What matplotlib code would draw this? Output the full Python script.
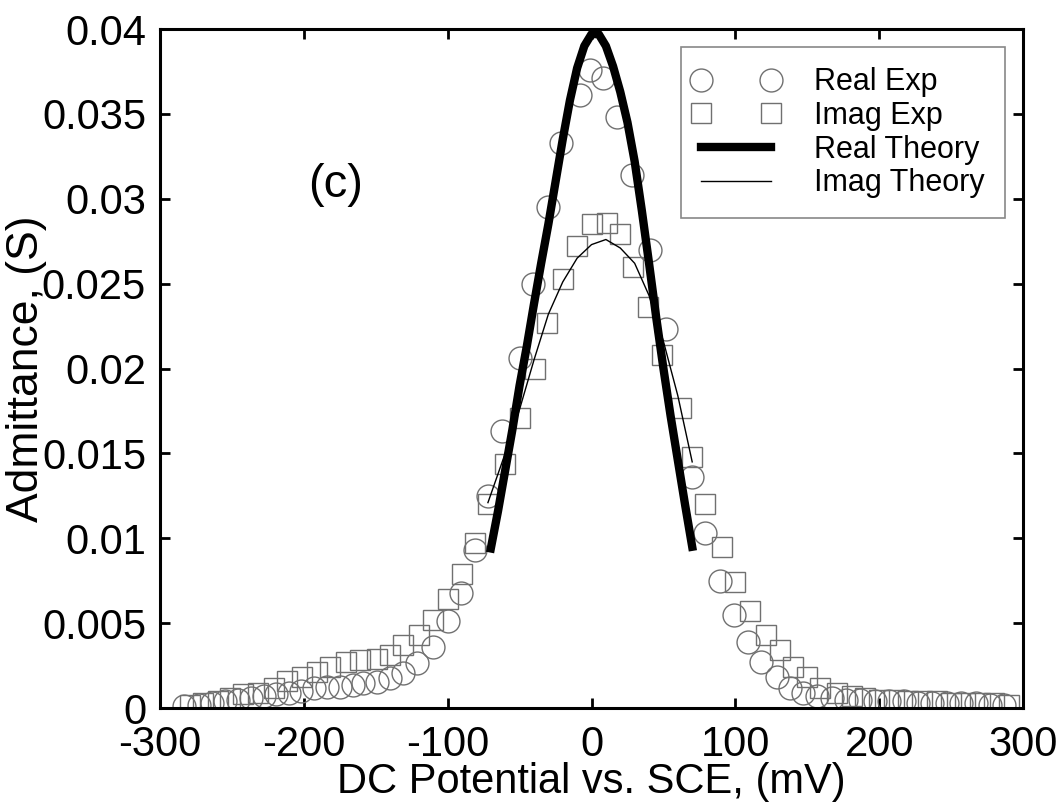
import matplotlib
matplotlib.use("Agg")
import matplotlib.pyplot as plt
from matplotlib.lines import Line2D
from matplotlib.legend_handler import HandlerLine2D
from matplotlib.ticker import FuncFormatter

plt.rcParams['font.family'] = ['Liberation Sans', 'DejaVu Sans']
plt.rcParams['axes.unicode_minus'] = False

# Real part, experiment (circles)
real_exp_x = [-283, -273, -264, -255, -246, -237, -228, -219, -210, -202, -193, -184, -175, -166,
              -159, -149, -140, -131, -121, -110, -100, -91, -81, -72, -62, -50, -41, -30, -21, -8,
              -1, 8, 18, 28, 41, 52, 70, 79, 89, 99, 109, 118, 129, 138, 147, 157, 167, 177, 187,
              197, 207, 217, 227, 237, 247, 257, 267, 277, 287]
real_exp_y = [0.0001, 0.0002, 0.0003, 0.0004, 0.0005, 0.0006, 0.0007, 0.0008, 0.0009, 0.0010,
              0.00118, 0.00124, 0.00124, 0.00135, 0.00147, 0.00153, 0.00177, 0.00206, 0.00265,
              0.0036, 0.0051, 0.0068, 0.0093, 0.0125, 0.0163, 0.0206, 0.0250, 0.0295, 0.0333,
              0.0361, 0.0376, 0.0371, 0.0348, 0.0314, 0.0270, 0.0223, 0.0136, 0.0103, 0.0075,
              0.0055, 0.0039, 0.0027, 0.0018, 0.0012, 0.0009, 0.0007, 0.0006, 0.0005, 0.0005,
              0.0004, 0.0004, 0.0004, 0.0003, 0.0003, 0.0003, 0.0003, 0.0003, 0.0002, 0.0002]

# Imaginary part, experiment (squares)
imag_exp_x = [-279, -270, -260, -251, -242, -232, -221, -212, -201, -191, -182, -171, -161, -149,
              -140, -131, -120, -110, -100, -90, -81, -72, -60, -50, -39, -31, -20, -10, 0, 11,
              20, 29, 39, 49, 62, 70, 79, 91, 100, 110, 121, 131, 140, 150, 159, 171, 181, 190,
              200, 210, 220, 230, 240, 250, 260, 270, 280, 290]
imag_exp_y = [0.0002, 0.0003, 0.0004, 0.0006, 0.0008, 0.0009, 0.0012, 0.0016, 0.0018, 0.0021,
              0.0024, 0.0027, 0.0028, 0.0029, 0.0031, 0.0037, 0.0043, 0.0052, 0.0064, 0.0079,
              0.0097, 0.0120, 0.0144, 0.0171, 0.0200, 0.0227, 0.0253, 0.0272, 0.0285, 0.0286,
              0.0279, 0.0260, 0.0236, 0.0208, 0.0177, 0.0148, 0.0120, 0.0095, 0.0074, 0.0057,
              0.0043, 0.0034, 0.0024, 0.0018, 0.0012, 0.0009, 0.0007, 0.0006, 0.0005, 0.0005,
              0.0004, 0.0004, 0.0004, 0.0003, 0.0003, 0.0003, 0.0003, 0.0002]

# Theory curves
real_th_x = [-70, -65, -60, -55, -50, -45, -40, -35, -30, -25, -20, -15, -10, -5, 0,
             5, 10, 15, 20, 25, 30, 35, 40, 45, 50, 55, 60, 65, 70]
real_th_y = [0.0094, 0.0116, 0.0140, 0.0164, 0.0190, 0.0213, 0.0238, 0.0262, 0.0285, 0.0310,
             0.0335, 0.0358, 0.0377, 0.0390, 0.0397, 0.0397, 0.0390, 0.0378, 0.0363, 0.0345,
             0.0322, 0.0293, 0.0262, 0.0230, 0.0200, 0.0172, 0.0146, 0.0120, 0.0095]
imag_th_x = [-72, -60, -50, -40, -30, -20, -10, 0, 10, 20, 30, 40, 50, 60, 70]
imag_th_y = [0.0121, 0.0150, 0.0176, 0.0205, 0.0232, 0.0251, 0.0265, 0.0273, 0.0276, 0.0271,
             0.0262, 0.0243, 0.0216, 0.0184, 0.0145]

fig = plt.figure(figsize=(10.63, 8.02), dpi=100)
ax = fig.add_axes([0.1505, 0.1172, 0.8119, 0.8466])

mk_col = '#707070'
ax.plot(real_exp_x, real_exp_y, 'o', ms=16.5, mfc='none', mec=mk_col, mew=1.0, label='Real Exp')
ax.plot(imag_exp_x, imag_exp_y, 's', ms=14, mfc='none', mec=mk_col, mew=1.0, label='Imag Exp')
ax.plot(real_th_x, real_th_y, '-', color='black', lw=6, label='Real Theory')
ax.plot(imag_th_x, imag_th_y, '-', color='black', lw=1.0, label='Imag Theory')

ax.set_xlim(-300, 300)
ax.set_ylim(0, 0.04)
ax.set_xticks(range(-300, 301, 100))
ax.set_yticks([i * 0.005 for i in range(9)])
ax.yaxis.set_major_formatter(FuncFormatter(lambda v, p: '%g' % round(v, 4)))
ax.tick_params(direction='in', length=7, width=2, labelsize=30, top=True, right=True)
ax.tick_params(axis='x', pad=12)
ax.tick_params(axis='y', pad=10)
for s in ax.spines.values():
    s.set_linewidth(2.2)

ax.set_xlabel('DC Potential vs. SCE, (mV)', fontsize=30, labelpad=-2)
ax.set_ylabel('Admittance, (S)', fontsize=32, labelpad=-4)

ax.text(-178, 0.0308, '(c)', fontsize=34, ha='center', va='center')

leg = ax.legend(loc='upper right', numpoints=2, fontsize=22, handlelength=2.3,
                handletextpad=1.4, labelspacing=0.12, borderaxespad=0.6, borderpad=0.65,
                fancybox=False, framealpha=1,
                handler_map={Line2D: HandlerLine2D(marker_pad=0)})
leg.get_frame().set_edgecolor('#888888')
leg.get_frame().set_linewidth(1.2)

fig.savefig('out.png', dpi=100)
